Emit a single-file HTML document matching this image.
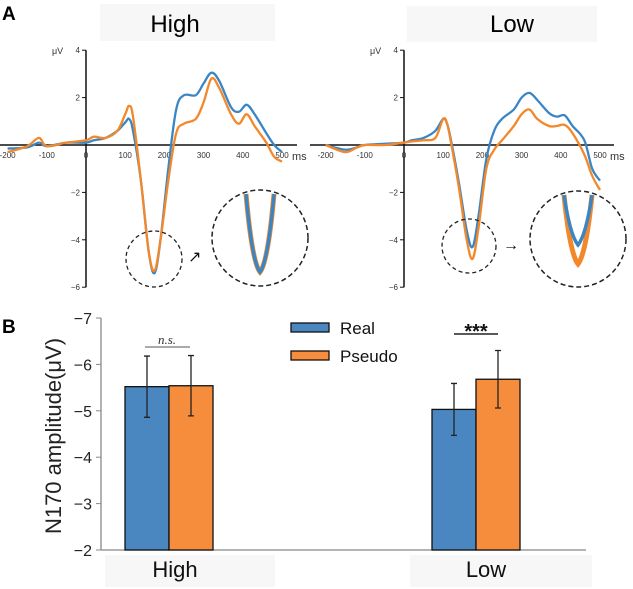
<!DOCTYPE html>
<html><head><meta charset="utf-8">
<style>
body{margin:0;background:#fff;}
svg{display:block;font-family:"Liberation Sans","DejaVu Sans",sans-serif;}
</style></head>
<body>
<svg id="fig" width="633" height="589" viewBox="0 0 633 589">
<rect width="633" height="589" fill="#fff"/>
<text x="2" y="20" font-size="19" font-weight="bold">A</text>
<text x="2" y="333" font-size="19" font-weight="bold">B</text>
<rect x="100" y="4" width="175" height="37" fill="#f7f7f7"/>
<text x="175" y="32" font-size="24" text-anchor="middle">High</text>
<rect x="407" y="6" width="190" height="36" fill="#f7f7f7"/>
<text x="512" y="32" font-size="24" text-anchor="middle">Low</text>
<g id="erp"></g>
<g id="bars"></g>
</svg>
<script>
const NS='http://www.w3.org/2000/svg';
function mk(tag,attrs,parent,txt){const e=document.createElementNS(NS,tag);for(const k in attrs)e.setAttribute(k,attrs[k]);if(txt!==undefined)e.textContent=txt;parent.appendChild(e);return e;}

// ===== Panel A data =====
const erpTimes=[-200,-150,-120,-100,-50,0,20,50,80,100,110,120,140,160,175,190,210,230,250,280,300,320,340,370,390,410,430,460,480,500];
const highReal=[-0.15,-0.1,0.1,-0.05,0.1,0.1,0.2,0.3,0.6,0.95,1.1,0.6,-1.5,-4.5,-5.4,-4.0,-1.0,1.5,2.1,2.1,2.6,3.05,2.7,1.6,1.4,1.7,1.3,0.5,0.0,-0.3];
const highPseudo=[-0.3,-0.05,0.3,-0.05,0.1,0.2,0.35,0.3,0.6,1.3,1.65,1.2,-1.5,-4.5,-5.3,-4.0,-1.5,0.5,0.9,1.1,1.8,2.8,2.4,1.3,0.9,1.3,0.8,0.1,-0.5,-0.7];
const lowReal=[0,-0.2,-0.1,0,0.05,0.1,0.2,0.3,0.6,1.1,0.9,0.2,-1.6,-3.6,-4.3,-3.0,-0.6,0.6,1.1,1.5,2.0,2.2,1.9,1.35,1.2,1.25,0.8,0.2,-1.0,-1.5];
const lowPseudo=[0,-0.3,-0.1,0,0,0.1,0.15,0.2,0.3,1.1,0.9,0.1,-1.8,-4.0,-4.8,-3.5,-1.0,-0.2,0.2,0.8,1.3,1.5,1.1,0.8,0.8,0.85,0.5,-0.4,-1.3,-1.9];
const yTicksA=[4,2,-2,-4,-6];
const xTicksA=[-200,-100,0,100,200,300,400,500];

const g=document.getElementById('erp');
function smoothPath(pts){let d='M'+pts[0][0]+','+pts[0][1];for(let i=0;i<pts.length-1;i++){const p0=pts[Math.max(0,i-1)],p1=pts[i],p2=pts[i+1],p3=pts[Math.min(pts.length-1,i+2)];const c1=[p1[0]+(p2[0]-p0[0])/6,p1[1]+(p2[1]-p0[1])/6],c2=[p2[0]-(p3[0]-p1[0])/6,p2[1]-(p3[1]-p1[1])/6];d+=` C${c1[0].toFixed(1)},${c1[1].toFixed(1)} ${c2[0].toFixed(1)},${c2[1].toFixed(1)} ${p2[0].toFixed(1)},${p2[1].toFixed(1)}`;}return d;}
function erpPanel(name,ox,lineX0,lineX1,real,pseudo,small,big,arrow){
  const X=t=>ox+t*0.392, Y=v=>145-v*23.7;
  const pg=mk('g',{},g);
  
  
  const xa=mk('line',{x1:lineX0,x2:lineX1,y1:145,y2:145,stroke:'#111','stroke-width':1.5},pg);
  
  const ya=mk('line',{x1:ox,x2:ox,y1:Y(4),y2:Y(-6),stroke:'#111','stroke-width':1.5},pg);
  
  yTicksA.forEach(v=>{mk('line',{x1:ox-4,x2:ox,y1:Y(v),y2:Y(v),stroke:'#111'},pg);
    const t=mk('text',{x:ox-6,y:Y(v)+3,'font-size':8,'text-anchor':'end',fill:'#333'},pg,v<0?'−'+(-v):String(v));
    });
  xTicksA.forEach(v=>{const t=mk('text',{x:X(v),y:158,'font-size':8,'text-anchor':'middle',fill:'#333'},pg,String(v));
    });
  const u=mk('text',{x:ox-34,y:54,'font-size':9,fill:'#333'},pg,'μV');
  const ms=mk('text',{x:X(500)+10,y:160,'font-size':11,fill:'#333'},pg,'ms');
  [[real,'#3a86c4','real'],[pseudo,'#f3882a','pseudo']].forEach(([arr,c,n])=>{
    const p=mk('path',{d:smoothPath(erpTimes.map((t,i)=>[X(t),Y(arr[i])])),fill:'none',stroke:c,'stroke-width':2.3},pg);
    });
  const c1=mk('circle',{cx:small[0],cy:small[1],r:small[2],fill:'none',stroke:'#222','stroke-dasharray':'4,3','stroke-width':1.3},pg);
  
  const c2=mk('circle',{cx:big[0],cy:big[1],r:48,fill:'none',stroke:'#222','stroke-dasharray':'5,3','stroke-width':1.5},pg);
  
  const cx=big[0],top=big[1]-44;
  [[pseudo,'#f3882a',5,'pseudo'],[real,'#3a86c4',3.5,'real']].forEach(([arr,c,w,n])=>{
    const pk=Math.min(...arr);const bot=Math.min(big[1]+34,big[1]+6+(-pk-4.3)*38);
    const p=mk('path',{d:`M${cx-14},${top} Q${cx-8},${bot-10} ${cx},${bot} Q${cx+8},${bot-10} ${cx+14},${top}`,fill:'none',stroke:c,'stroke-width':w},pg);
    });
  const a=mk('text',{x:arrow[0],y:arrow[1],'font-size':16,fill:'#111'},pg,arrow[2]);
  
}
erpPanel('high',86,0,297,highReal,highPseudo,[154,259,28],[260,238],[188,262,'↗']);
erpPanel('low',404,310,614,lowReal,lowPseudo,[469,246,27],[578,239],[503,250,'→']);

// ===== Panel B data =====
const categories=['High','Low'];
const realMeans=[-5.52,-5.03];
const pseudoMeans=[-5.54,-5.68];
const realErr=[0.66,0.56];
const pseudoErr=[0.65,0.62];
const yTicksB=[-7,-6,-5,-4,-3,-2];
const sigLabels=['n.s.','***'];

const b=document.getElementById('bars');
const YB=v=>550+(-v-2)*46.4*-1;
const catX=[169,476];
const bw=44;
mk('rect',{x:105,y:555,width:170,height:32,fill:'#f7f7f7'},b);
mk('rect',{x:410,y:555,width:182,height:32,fill:'#f7f7f7'},b);
const ax=mk('line',{x1:101,x2:586,y1:550,y2:550,stroke:'#888','stroke-width':1.3},b);

const ay=mk('line',{x1:101,x2:101,y1:318,y2:550,stroke:'#888','stroke-width':1.3},b);

yTicksB.forEach(v=>{mk('line',{x1:96,x2:101,y1:YB(v),y2:YB(v),stroke:'#888'},b);
  const t=mk('text',{x:92,y:YB(v)+6,'font-size':16,'text-anchor':'end',fill:'#222'},b,'−'+(-v));
  });
const yl=mk('text',{x:0,y:0,'font-size':22,'text-anchor':'middle',fill:'#222',transform:'translate(61,436) rotate(-90)'},b,'N170 amplitude(μV)');

categories.forEach((c,i)=>{
  [[realMeans[i],realErr[i],'#4a87c0',-bw,'real'],[pseudoMeans[i],pseudoErr[i],'#f58d3c',0,'pseudo']].forEach(([m,e,col,off,n])=>{
    const r=mk('rect',{x:catX[i]+off,y:YB(m),width:bw,height:550-YB(m),fill:col,stroke:'#111','stroke-width':1.3},b);
    
    const ex=catX[i]+off+bw/2;
    const el=mk('path',{d:`M${ex},${YB(m-e)}V${YB(m+e)}M${ex-3},${YB(m-e)}H${ex+3}M${ex-3},${YB(m+e)}H${ex+3}`,stroke:'#222','stroke-width':1.3,fill:'none'},b);
    
  });
  const cl=mk('text',{x:i==0?175:486,y:577,'font-size':22,'text-anchor':'middle',fill:'#111'},b,c);
  
});
const ns=mk('text',{x:167,y:344,'font-size':13,'font-style':'italic','font-family':'Liberation Serif, serif','text-anchor':'middle',fill:'#333'},b,sigLabels[0]);

mk('line',{x1:145,x2:190,y1:347,y2:347,stroke:'#555'},b);
const st=mk('text',{x:476,y:338,'font-size':20,'font-weight':'bold','text-anchor':'middle',fill:'#111'},b,sigLabels[1]);

mk('line',{x1:454,x2:498,y1:334,y2:334,stroke:'#222','stroke-width':1.5},b);
[['Real','#4a87c0',323],['Pseudo','#f58d3c',351]].forEach(([n,c,y])=>{
  const lg=mk('g',{},b);
  mk('rect',{x:291,y:y,width:38,height:9,fill:c,stroke:'#111','stroke-width':1.3},lg);
  mk('text',{x:340,y:y+11,'font-size':17,fill:'#111'},lg,n);
});
</script>
</body></html>
